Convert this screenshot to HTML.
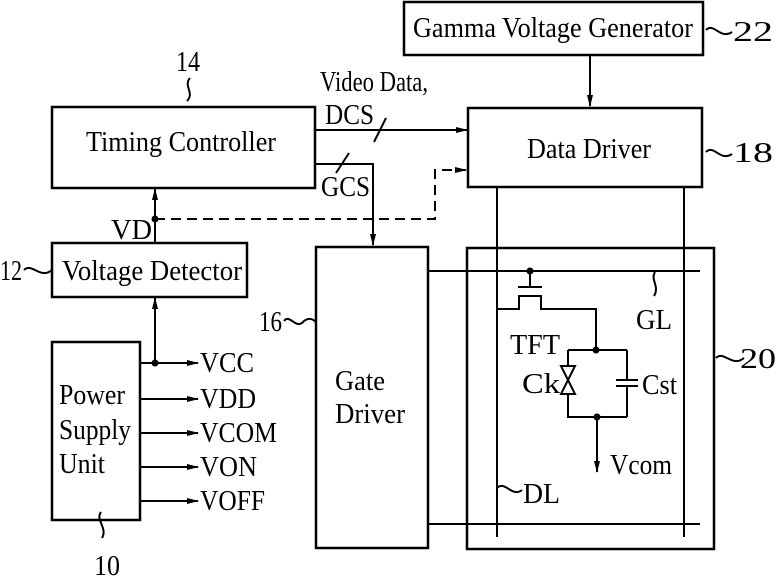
<!DOCTYPE html>
<html><head><style>
html,body{margin:0;padding:0;background:#fff;}
svg{display:block;}
text{font-family:"Liberation Serif",serif;fill:#000;}
</style></head><body>
<svg width="780" height="576" viewBox="0 0 780 576" xmlns="http://www.w3.org/2000/svg">
<defs>
<marker id="a" markerWidth="12" markerHeight="8" refX="11" refY="4" orient="auto" markerUnits="userSpaceOnUse">
<path d="M0,1 L12,4 L0,7 Z" fill="#000"/></marker>
</defs>
<g fill="none" stroke="#000" stroke-width="2.5">
<rect x="404" y="2" width="299" height="53"/>
<rect x="468" y="108" width="234" height="79"/>
<rect x="52" y="107" width="263" height="81"/>
<rect x="52" y="243" width="195" height="54"/>
<rect x="52" y="342" width="88" height="178"/>
<rect x="316" y="247" width="112" height="301"/>
<rect x="467" y="248" width="247" height="301"/>
</g>
<g stroke="#000" stroke-width="2" fill="none">
<line x1="590" y1="55" x2="590" y2="106" marker-end="url(#a)"/>
<line x1="315" y1="130" x2="467" y2="130" marker-end="url(#a)"/>
<line x1="374" y1="142" x2="386" y2="118"/>
<polyline points="315,164 373,164 373,245" marker-end="url(#a)"/>
<line x1="336" y1="173" x2="349" y2="153"/>
<polyline points="155,219 435,219 435,170 466,170" stroke-dasharray="10,6" marker-end="url(#a)"/>
<line x1="155" y1="242" x2="155" y2="189" marker-end="url(#a)"/>
<circle cx="155" cy="219" r="2.5" fill="#000"/>
<line x1="155" y1="363" x2="155" y2="298" marker-end="url(#a)"/>
<circle cx="155" cy="363" r="2.5" fill="#000"/>
<line x1="140" y1="363" x2="198" y2="363" marker-end="url(#a)"/>
<line x1="140" y1="399" x2="198" y2="399" marker-end="url(#a)"/>
<line x1="140" y1="433" x2="198" y2="433" marker-end="url(#a)"/>
<line x1="140" y1="467" x2="198" y2="467" marker-end="url(#a)"/>
<line x1="140" y1="501" x2="198" y2="501" marker-end="url(#a)"/>
<line x1="497" y1="187" x2="497" y2="537"/>
<line x1="684" y1="187" x2="684" y2="537"/>
<line x1="428" y1="271" x2="700" y2="271"/>
<line x1="428" y1="524" x2="700" y2="524"/>
<circle cx="530" cy="271" r="2.5" fill="#000"/>
<line x1="530" y1="271" x2="530" y2="287"/>
<line x1="518" y1="287" x2="542" y2="287"/>
<polyline points="497,309 519,309 519,296 541,296 541,309 596,309 596,350"/>
<circle cx="596" cy="350" r="2.5" fill="#000"/>
<polyline points="568,350 627,350"/>
<polyline points="568,350 568,417 627,417"/>
<line x1="627" y1="350" x2="627" y2="380"/>
<line x1="616" y1="380" x2="638" y2="380"/>
<line x1="616" y1="386" x2="638" y2="386"/>
<line x1="627" y1="386" x2="627" y2="417"/>
<path d="M561,366 L575,366 L561,394 L575,394 Z" fill="#fff"/>
<circle cx="597" cy="417" r="2.5" fill="#000"/>
<line x1="597" y1="417" x2="597" y2="472" marker-end="url(#a)"/>
<path d="M190,78 C183,86 195,93 187,101"/>
<path d="M706,30 C714,22 720,40 732,32"/>
<path d="M706,152 C714,144 720,162 732,154"/>
<path d="M716,358 C724,350 732,368 744,358"/>
<path d="M24,270 C32,262 40,280 52,270"/>
<path d="M284,321 C290,313 296,331 304,321 C308,318 312,318 316,322"/>
<path d="M655,272 C650,280 660,286 654,296"/>
<path d="M497,488 C505,480 512,498 522,490"/>
<path d="M101,512 C95,520 108,528 102,538"/>
</g>
<g font-size="28">
<text x="413" y="37" textLength="280" lengthAdjust="spacingAndGlyphs">Gamma Voltage Generator</text>
<text x="733" y="41" textLength="40" lengthAdjust="spacingAndGlyphs">22</text>
<text x="527" y="158" textLength="124" lengthAdjust="spacingAndGlyphs">Data Driver</text>
<text x="733" y="162" textLength="40" lengthAdjust="spacingAndGlyphs">18</text>
<text x="86" y="151" textLength="190" lengthAdjust="spacingAndGlyphs">Timing Controller</text>
<text x="176" y="71" textLength="24" lengthAdjust="spacingAndGlyphs">14</text>
<text x="320" y="91" textLength="108" lengthAdjust="spacingAndGlyphs">Video Data,</text>
<text x="325" y="124" textLength="49" lengthAdjust="spacingAndGlyphs">DCS</text>
<text x="321" y="196" textLength="49" lengthAdjust="spacingAndGlyphs">GCS</text>
<text x="111" y="239" textLength="41" lengthAdjust="spacingAndGlyphs">VD</text>
<text x="62" y="280" textLength="180" lengthAdjust="spacingAndGlyphs">Voltage Detector</text>
<text x="0" y="280" textLength="22" lengthAdjust="spacingAndGlyphs">12</text>
<text x="59" y="404" textLength="66" lengthAdjust="spacingAndGlyphs">Power</text>
<text x="59" y="439" textLength="72" lengthAdjust="spacingAndGlyphs">Supply</text>
<text x="59" y="473" textLength="46" lengthAdjust="spacingAndGlyphs">Unit</text>
<text x="94" y="575" textLength="26" lengthAdjust="spacingAndGlyphs">10</text>
<text x="200" y="372" textLength="54" lengthAdjust="spacingAndGlyphs">VCC</text>
<text x="200" y="408" textLength="56" lengthAdjust="spacingAndGlyphs">VDD</text>
<text x="200" y="442" textLength="77" lengthAdjust="spacingAndGlyphs">VCOM</text>
<text x="200" y="476" textLength="57" lengthAdjust="spacingAndGlyphs">VON</text>
<text x="200" y="510" textLength="65" lengthAdjust="spacingAndGlyphs">VOFF</text>
<text x="335" y="390" textLength="50" lengthAdjust="spacingAndGlyphs">Gate</text>
<text x="335" y="423" textLength="70" lengthAdjust="spacingAndGlyphs">Driver</text>
<text x="259" y="331" textLength="23" lengthAdjust="spacingAndGlyphs">16</text>
<text x="510" y="354" textLength="50" lengthAdjust="spacingAndGlyphs">TFT</text>
<text x="522" y="393" textLength="38" lengthAdjust="spacingAndGlyphs">Ck</text>
<text x="642" y="394" textLength="35" lengthAdjust="spacingAndGlyphs">Cst</text>
<text x="610" y="474" textLength="62" lengthAdjust="spacingAndGlyphs">Vcom</text>
<text x="523" y="503" textLength="37" lengthAdjust="spacingAndGlyphs">DL</text>
<text x="636" y="329" textLength="36" lengthAdjust="spacingAndGlyphs">GL</text>
<text x="740" y="368" textLength="36" lengthAdjust="spacingAndGlyphs">20</text>
</g>
</svg>
</body></html>
